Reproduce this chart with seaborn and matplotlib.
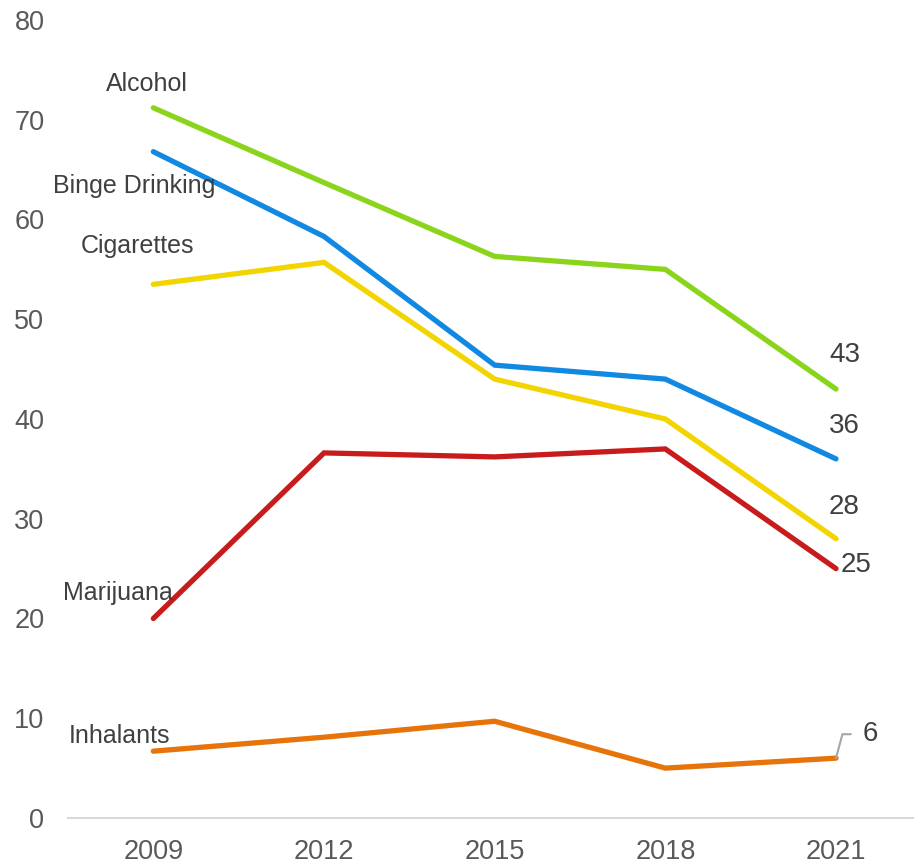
import matplotlib
matplotlib.use("Agg")
import matplotlib.pyplot as plt
import seaborn as sns
import pandas as pd

years = ["2009", "2012", "2015", "2018", "2021"]
alcohol = [71.2, 63.7, 56.3, 55.0, 43]
binge = [66.8, 58.3, 45.4, 44.0, 36]
cigarettes = [53.5, 55.7, 44.0, 40.0, 28]
marijuana = [20, 36.6, 36.2, 37.0, 25]
inhalants = [6.7, 8.1, 9.7, 5.0, 6]

series = {
    "Alcohol": alcohol,
    "Binge Drinking": binge,
    "Cigarettes": cigarettes,
    "Marijuana": marijuana,
    "Inhalants": inhalants,
}
colors = {
    "Alcohol": "#8ad41c",
    "Binge Drinking": "#1189e2",
    "Cigarettes": "#f2d500",
    "Marijuana": "#c81b1b",
    "Inhalants": "#e7730b",
}

rows = []
for name, vals in series.items():
    for i, v in enumerate(vals):
        rows.append({"substance": name, "x": i, "value": v})
df = pd.DataFrame(rows)

sns.set_style("white")
plt.rcParams["font.family"] = ["Liberation Sans", "DejaVu Sans"]

fig = plt.figure(figsize=(9.14, 8.64), dpi=100)
ax = fig.add_axes([68 / 914, 1 - 818 / 864, 1 - 68 / 914, (818 - 20) / 864])

sns.lineplot(data=df, x="x", y="value", hue="substance", palette=colors,
             linewidth=3.8, legend=False, ax=ax)
for line in ax.lines:
    line.set_solid_capstyle("round")
    line.set_solid_joinstyle("miter")

ax.set_xlim(-0.5, 4.457)
ax.set_ylim(0, 80)
ax.set_xticks(range(len(years)))
ax.set_xticklabels(years)
ax.set_yticks(range(0, 81, 10))
ax.tick_params(axis="both", labelsize=19.5, labelcolor="#595959", length=0)
ax.tick_params(axis="x", pad=15)
ax.tick_params(axis="y", pad=17)
ax.set_xlabel("")
ax.set_ylabel("")
for s in ["top", "right", "left"]:
    ax.spines[s].set_visible(False)
ax.spines["bottom"].set_color("#d9d9d9")
ax.spines["bottom"].set_linewidth(1.5)

txt = "#404040"
fs = 18
# series labels at the start
ax.text(-0.04, alcohol[0] + 2.4, "Alcohol", fontsize=fs, color=txt, ha="center", va="center")
ax.text(-0.11, binge[0] - 3.4, "Binge Drinking", fontsize=fs, color=txt, ha="center", va="center")
ax.text(-0.09, cigarettes[0] + 3.8, "Cigarettes", fontsize=fs, color=txt, ha="center", va="center")
ax.text(-0.21, marijuana[0] + 2.6, "Marijuana", fontsize=fs, color=txt, ha="center", va="center")
ax.text(-0.20, inhalants[0] + 1.5, "Inhalants", fontsize=fs, color=txt, ha="center", va="center")

# end values
efs = 20
ax.text(4.05, alcohol[-1] + 3.4, f"{alcohol[-1]}", fontsize=efs, color=txt, ha="center", va="center")
ax.text(4.05, binge[-1] + 3.3, f"{binge[-1]}", fontsize=efs, color=txt, ha="center", va="center")
ax.text(4.05, cigarettes[-1] + 3.2, f"{cigarettes[-1]}", fontsize=efs, color=txt, ha="center", va="center")
ax.text(4.12, marijuana[-1] + 0.4, f"{marijuana[-1]}", fontsize=efs, color=txt, ha="center", va="center")
ax.annotate(f"{inhalants[-1]}", xy=(4, inhalants[-1]), xytext=(4.2, inhalants[-1] + 2.4),
            fontsize=efs, color=txt, ha="center", va="center",
            arrowprops=dict(arrowstyle="-", color="#a6a6a6", lw=1.5, relpos=(0, 0.5),
                            connectionstyle="angle,angleA=0,angleB=75,rad=0",
                            shrinkA=6, shrinkB=0))

fig.savefig("out.png", dpi=100)
